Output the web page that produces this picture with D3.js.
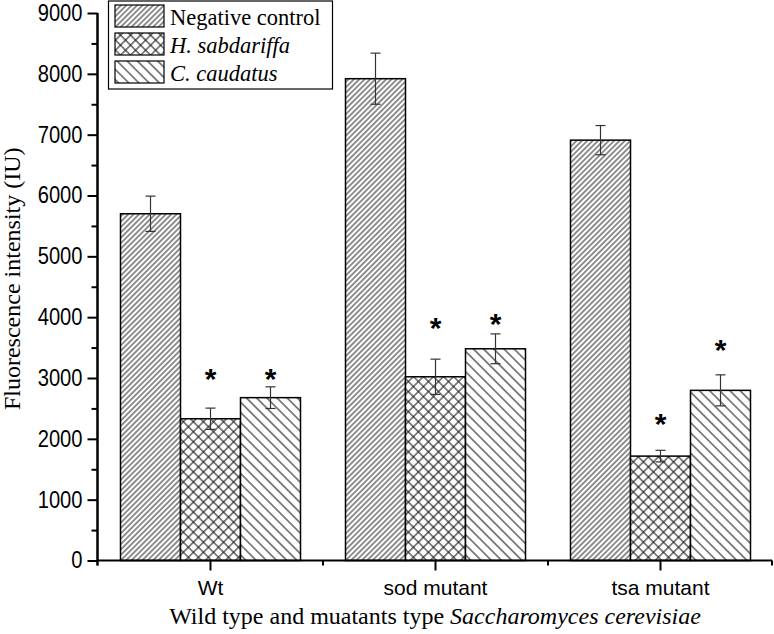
<!DOCTYPE html>
<html>
<head>
<meta charset="utf-8">
<script src="https://cdn.jsdelivr.net/npm/d3@7"></script>
<style>
  html, body { margin: 0; padding: 0; background: #fff; }
  svg { display: block; }
  .serif { font-family: "Liberation Serif", "Times New Roman", Times, "DejaVu Serif", serif; }
  .sans { font-family: "Liberation Sans", Arial, Helvetica, sans-serif; }
</style>
</head>
<body>
<div id="chart"></div>
<script>
// ---- data ----
const categories = ["Wt", "sod mutant", "tsa mutant"];
const seriesNames = ["Negative control", "H. sabdariffa", "C. caudatus"];
const negControl = [5700, 7920, 6910];
const negControlErr = [290, 420, 240];
const hSabdariffa = [2330, 3020, 1716];
const hSabdariffaErr = [175, 290, 95];
const cCaudatus = [2677, 3480, 2797];
const cCaudatusErr = [178, 245, 255];
const starHS = [3080, 3916, 2336];
const starCC = [3080, 3982, 3554];
const yTicks = [0, 1000, 2000, 3000, 4000, 5000, 6000, 7000, 8000, 9000];
const yMinorTicks = [500, 1500, 2500, 3500, 4500, 5500, 6500, 7500, 8500];
const xTitle = "Wild type and muatants type ";
const xTitleItalic = "Saccharomyces cerevisiae";
const yTitle = "Fluorescence intensity (IU)";

const W = 774, H = 634;
const svg = d3.select("#chart").append("svg").attr("width", W).attr("height", H);

const seriesVals = [negControl, hSabdariffa, cCaudatus];
const seriesErrs = [negControlErr, hSabdariffaErr, cCaudatusErr];
const seriesStars = [null, starHS, starCC];
const patternIds = ["pNC", "pHS", "pCC"];

// ---- patterns ----
const defs = svg.append("defs");
function linePattern(id, spacing, angle, color, sw) {
  const p = defs.append("pattern").attr("id", id)
    .attr("patternUnits", "userSpaceOnUse")
    .attr("width", spacing).attr("height", spacing)
    .attr("patternTransform", `rotate(${angle})`);
  p.append("rect").attr("width", spacing).attr("height", spacing).attr("fill", "#fff");
  p.append("line").attr("x1", spacing / 2).attr("x2", spacing / 2)
    .attr("y1", 0).attr("y2", spacing)
    .attr("stroke", color).attr("stroke-width", sw);
}
linePattern("pNC", 3.8, 45, "#222", 1);
linePattern("pCC", 7.2, -45, "#111", 1);
(function () {
  const s = 7.1;
  const p = defs.append("pattern").attr("id", "pHS")
    .attr("patternUnits", "userSpaceOnUse")
    .attr("width", s).attr("height", s)
    .attr("patternTransform", "rotate(45)");
  p.append("rect").attr("width", s).attr("height", s).attr("fill", "#fff");
  p.append("line").attr("x1", s / 2).attr("x2", s / 2).attr("y1", 0).attr("y2", s)
    .attr("stroke", "#111").attr("stroke-width", 1);
  p.append("line").attr("y1", s / 2).attr("y2", s / 2).attr("x1", 0).attr("x2", s)
    .attr("stroke", "#111").attr("stroke-width", 1);
})();

// ---- scales ----
const x0 = d3.scaleBand().domain(categories).range([98, 773]).paddingInner(0).paddingOuter(0);
const x1 = d3.scaleBand().domain(seriesNames).range([22.5, 202.5]).padding(0);
const y = d3.scaleLinear().domain([0, 9000]).range([560.5, 13]);

// ---- bars ----
const groups = svg.append("g").selectAll("g").data(categories).join("g")
  .attr("transform", d => `translate(${x0(d)},0)`);

seriesNames.forEach((s, si) => {
  groups.append("rect")
    .attr("x", (d, i) => x1(s))
    .attr("width", x1.bandwidth())
    .attr("y", (d, i) => y(seriesVals[si][i]))
    .attr("height", (d, i) => y(0) - y(seriesVals[si][i]))
    .attr("fill", `url(#${patternIds[si]})`)
    .attr("stroke", "#000").attr("stroke-width", 1.5);
});

// ---- error bars ----
seriesNames.forEach((s, si) => {
  const cx = x1(s) + x1.bandwidth() / 2;
  const eg = groups.append("g").attr("stroke", "#333").attr("stroke-width", 1.2);
  eg.append("line").attr("x1", cx).attr("x2", cx)
    .attr("y1", (d, i) => y(seriesVals[si][i] + seriesErrs[si][i]))
    .attr("y2", (d, i) => y(seriesVals[si][i] - seriesErrs[si][i]));
  eg.append("line").attr("x1", cx - 5).attr("x2", cx + 5)
    .attr("y1", (d, i) => y(seriesVals[si][i] + seriesErrs[si][i]))
    .attr("y2", (d, i) => y(seriesVals[si][i] + seriesErrs[si][i]));
  eg.append("line").attr("x1", cx - 5).attr("x2", cx + 5)
    .attr("y1", (d, i) => y(seriesVals[si][i] - seriesErrs[si][i]))
    .attr("y2", (d, i) => y(seriesVals[si][i] - seriesErrs[si][i]));
  if (seriesStars[si]) {
    groups.append("text")
      .attr("class", "sans")
      .attr("x", cx)
      .attr("y", (d, i) => y(seriesStars[si][i]) + 16)
      .attr("text-anchor", "middle")
      .style("font-size", "30px")
      .style("font-weight", "bold")
      .attr("fill", "#000")
      .text("*");
  }
});

// ---- axes ----
const yAxisMinor = d3.axisLeft(y).tickValues(yMinorTicks).tickSize(6).tickFormat("");
const yAxis = d3.axisLeft(y).tickValues(yTicks).tickSize(10).tickPadding(5).tickFormat(d3.format("d"));
const gyMinor = svg.append("g").attr("transform", "translate(97.5,0)").call(yAxisMinor);
const gy = svg.append("g").attr("transform", "translate(97.5,0)").call(yAxis);
[gy, gyMinor].forEach(g => {
  g.selectAll("line").attr("stroke", "#000").attr("stroke-width", 2);
  g.select(".domain").attr("stroke", "#000").attr("stroke-width", 2).attr("d", `M0,${y(9000)}V${y(0) + 5}`);
});
gy.attr("font-family", null).attr("font-size", null);
gy.selectAll("text").attr("class", "sans").style("font-size", "23px").attr("fill", "#000")
  .attr("textLength", function () { return this.textContent.length * 11.2; })
  .attr("lengthAdjust", "spacingAndGlyphs");

// x-axis
const xAxisMajor = d3.axisBottom(x0).tickSize(10).tickPadding(10);
const gx = svg.append("g").attr("transform", `translate(0,${y(0)})`).call(xAxisMajor);
gx.attr("font-family", null).attr("font-size", null);
gx.select(".domain").attr("stroke", "#000").attr("stroke-width", 2).attr("d", `M97.5,0H772`);
gx.selectAll("line").attr("stroke", "#000").attr("stroke-width", 2);
gx.selectAll("text").attr("class", "sans").style("font-size", "21px").attr("fill", "#000");
// boundary (minor) ticks
const bounds = categories.map(c => x0(c)).concat([x0(categories[categories.length - 1]) + x0.bandwidth()]);
svg.append("g").selectAll("line").data(bounds.slice(1)).join("line")
  .attr("x1", d => Math.min(d, 772)).attr("x2", d => Math.min(d, 772))
  .attr("y1", y(0)).attr("y2", y(0) + 5)
  .attr("stroke", "#000").attr("stroke-width", 2);

// ---- titles ----
const xt = svg.append("text")
  .attr("class", "serif")
  .attr("x", 435).attr("y", 624)
  .attr("text-anchor", "middle")
  .style("font-size", "24px").attr("fill", "#000");
xt.append("tspan").text(xTitle);
xt.append("tspan").style("font-style", "italic").text(xTitleItalic);

svg.append("text")
  .attr("class", "serif")
  .attr("transform", `translate(20,${(y(0) + y(9000)) / 2 - 8}) rotate(-90)`)
  .attr("text-anchor", "middle")
  .style("font-size", "24px").attr("fill", "#000")
  .text(yTitle);

// ---- legend ----
const lg = svg.append("g");
lg.append("rect").attr("x", 108.5).attr("y", 1).attr("width", 224).attr("height", 88)
  .attr("fill", "#fff").attr("stroke", "#000").attr("stroke-width", 1.2);
seriesNames.forEach((s, i) => {
  const yy = 5 + i * 28;
  lg.append("rect").attr("x", 115).attr("y", yy).attr("width", 49).attr("height", 22)
    .attr("fill", `url(#${patternIds[i]})`).attr("stroke", "#000").attr("stroke-width", 1.2);
  lg.append("text").attr("class", "serif").attr("x", 170).attr("y", yy + 20)
    .style("font-size", "22.5px")
    .style("font-style", i === 0 ? "normal" : "italic")
    .attr("fill", "#000").text(s);
});
</script>
</body>
</html>
